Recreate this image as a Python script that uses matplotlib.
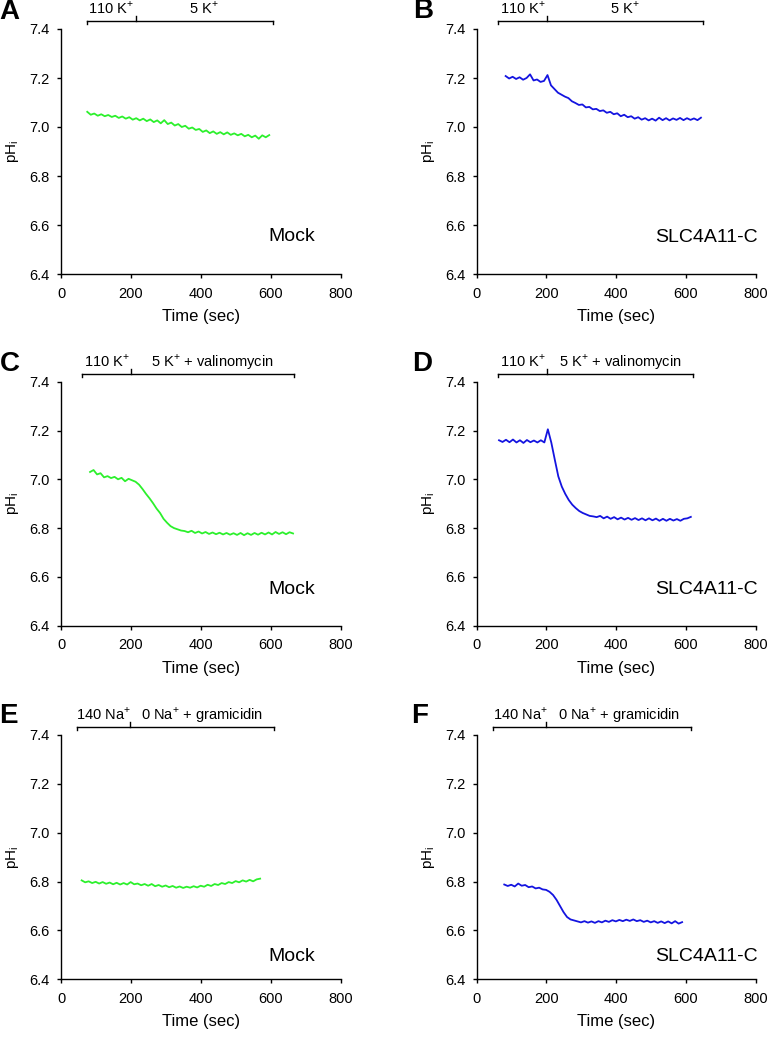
import numpy as np
import matplotlib
matplotlib.use("Agg")
import matplotlib.pyplot as plt

plt.rcParams["font.family"] = ["Liberation Sans", "DejaVu Sans"]
plt.rcParams["mathtext.fontset"] = "custom"
plt.rcParams["mathtext.rm"] = "Liberation Sans"

GREEN = "#2cf02c"
BLUE = "#1414e0"

# traces: start time (s), 10 s sampling, pH values
a_t0 = 75
a_ph = [7.062, 7.050, 7.055, 7.046, 7.052, 7.044, 7.049, 7.041, 7.046, 7.037,
        7.043, 7.034, 7.040, 7.030, 7.036, 7.027, 7.034, 7.024, 7.031, 7.020,
        7.027, 7.015, 7.028, 7.012, 7.018, 7.006, 7.012, 7.000, 7.005, 6.993,
        6.998, 6.988, 6.992, 6.980, 6.986, 6.975, 6.982, 6.972, 6.979, 6.970,
        6.978, 6.968, 6.974, 6.966, 6.972, 6.962, 6.968, 6.958, 6.965, 6.952,
        6.966, 6.958, 6.967]

b_t0 = 83
b_ph = [7.208, 7.198, 7.205, 7.196, 7.203, 7.193, 7.200, 7.215, 7.190, 7.194,
        7.184, 7.188, 7.212, 7.170, 7.155, 7.140, 7.132, 7.124, 7.118, 7.105,
        7.098, 7.090, 7.092, 7.080, 7.082, 7.072, 7.074, 7.065, 7.068, 7.058,
        7.062, 7.052, 7.056, 7.044, 7.050, 7.040, 7.044, 7.034, 7.040, 7.030,
        7.036, 7.027, 7.034, 7.026, 7.038, 7.028, 7.036, 7.027, 7.035, 7.029,
        7.037, 7.028, 7.036, 7.029, 7.035, 7.028, 7.038]

c_t0 = 83
c_ph = [7.030, 7.038, 7.020, 7.025, 7.008, 7.013, 7.005, 7.010, 7.000, 7.006,
        6.992, 7.002, 6.996, 6.990, 6.978, 6.960, 6.940, 6.922, 6.902, 6.880,
        6.862, 6.838, 6.822, 6.808, 6.800, 6.795, 6.790, 6.788, 6.783, 6.789,
        6.780, 6.786, 6.778, 6.784, 6.776, 6.782, 6.775, 6.781, 6.774, 6.780,
        6.773, 6.779, 6.772, 6.780, 6.771, 6.779, 6.772, 6.780, 6.773, 6.781,
        6.774, 6.782, 6.774, 6.784, 6.776, 6.783, 6.775, 6.783, 6.778]

d_t0 = 64
d_ph = [7.160, 7.153, 7.162, 7.152, 7.163, 7.151, 7.160, 7.149, 7.161, 7.152,
        7.159, 7.151, 7.160, 7.151, 7.205, 7.150, 7.080, 7.012, 6.970, 6.940,
        6.915, 6.896, 6.882, 6.870, 6.862, 6.856, 6.850, 6.848, 6.845, 6.850,
        6.840, 6.847, 6.838, 6.845, 6.836, 6.843, 6.835, 6.842, 6.834, 6.841,
        6.833, 6.840, 6.832, 6.840, 6.832, 6.839, 6.830, 6.838, 6.830, 6.838,
        6.831, 6.837, 6.830, 6.838, 6.840, 6.846]

e_t0 = 59
e_ph = [6.805, 6.797, 6.801, 6.794, 6.799, 6.792, 6.798, 6.791, 6.796, 6.789,
        6.795, 6.788, 6.794, 6.788, 6.798, 6.789, 6.792, 6.785, 6.790, 6.783,
        6.790, 6.781, 6.786, 6.779, 6.784, 6.777, 6.782, 6.775, 6.780, 6.774,
        6.779, 6.775, 6.781, 6.776, 6.783, 6.779, 6.787, 6.782, 6.790, 6.786,
        6.794, 6.790, 6.798, 6.794, 6.802, 6.797, 6.805, 6.800, 6.807, 6.801,
        6.809, 6.812]

f_t0 = 79
f_ph = [6.788, 6.782, 6.787, 6.780, 6.792, 6.783, 6.786, 6.777, 6.780, 6.772,
        6.775, 6.768, 6.766, 6.758, 6.745, 6.725, 6.700, 6.675, 6.655, 6.645,
        6.641, 6.637, 6.633, 6.638, 6.632, 6.637, 6.631, 6.638, 6.633, 6.640,
        6.635, 6.642, 6.637, 6.643, 6.638, 6.644, 6.639, 6.645, 6.638, 6.642,
        6.635, 6.640, 6.633, 6.638, 6.631, 6.637, 6.630, 6.637, 6.629, 6.638,
        6.628, 6.634]

# solution bars above each panel: start, switch, end (s)
a_bar = [74, 213, 605]
b_bar = [62, 202, 650]
c_bar = [60, 200, 667]
d_bar = [62, 202, 619]
e_bar = [47, 197, 609]
f_bar = [48, 200, 614]

k_labels = ["110 K$^\\mathregular{+}$", "5 K$^\\mathregular{+}$"]
val_labels = ["110 K$^\\mathregular{+}$", "5 K$^\\mathregular{+}$ + valinomycin"]
na_labels = ["140 Na$^\\mathregular{+}$", "0 Na$^\\mathregular{+}$ + gramicidin"]

panels = [
    ("A", a_t0, a_ph, GREEN, a_bar, k_labels, "Mock", 6.555),
    ("B", b_t0, b_ph, BLUE, b_bar, k_labels, "SLC4A11-C", 6.55),
    ("C", c_t0, c_ph, GREEN, c_bar, val_labels, "Mock", 6.55),
    ("D", d_t0, d_ph, BLUE, d_bar, val_labels, "SLC4A11-C", 6.55),
    ("E", e_t0, e_ph, GREEN, e_bar, na_labels, "Mock", 6.493),
    ("F", f_t0, f_ph, BLUE, f_bar, na_labels, "SLC4A11-C", 6.493),
]

W, H = 771, 1038
fig = plt.figure(figsize=(W / 100, H / 100), dpi=100)

# axes boxes in pixels: left, top, right, bottom
lefts = [(61, 341), (476.7, 755.7)]
rows = [(29, 274), (381.7, 625.7), (735, 979.3)]
letter_pos = [(9, 12), (423, 11), (10, 364), (422, 364), (8, 716), (420, 716)]

for i, (letter, t0, ph, color, bar, labels, name, name_y) in enumerate(panels):
    x0, x1 = lefts[i % 2]
    y0, y1 = rows[i // 2]
    ax = fig.add_axes([x0 / W, 1 - y1 / H, (x1 - x0) / W, (y1 - y0) / H])
    t = t0 + 10 * np.arange(len(ph))
    ax.plot(t, ph, color=color, lw=1.3)

    ax.set_xlim(0, 800)
    ax.set_ylim(6.4, 7.4)
    ax.set_xticks([0, 200, 400, 600, 800])
    ax.set_yticks([6.4, 6.6, 6.8, 7.0, 7.2, 7.4])
    ax.set_yticklabels(["%.1f" % v for v in ax.get_yticks()])
    for s in ["top", "right"]:
        ax.spines[s].set_visible(False)
    for s in ["left", "bottom"]:
        ax.spines[s].set_linewidth(1.0)
    ax.tick_params(direction="out", length=3, width=1.0, labelsize=10.5)
    ax.tick_params(axis="x", pad=6)
    ax.tick_params(axis="y", pad=5)
    ax.set_xlabel("Time (sec)", fontsize=12, labelpad=6)
    ax.set_ylabel("pH$_\\mathregular{i}$", fontsize=11, labelpad=6)

    # solution bar
    yb = 7.432
    ax.plot([bar[0], bar[2]], [yb, yb], color="black", lw=1.0, clip_on=False)
    for xe in (bar[0], bar[2]):
        ax.plot([xe, xe], [yb, yb - 0.013], color="black", lw=1.0, clip_on=False)
    ax.plot([bar[1], bar[1]], [yb, yb + 0.02], color="black", lw=1.0, clip_on=False)
    ax.text((bar[0] + bar[1]) / 2, yb + 0.03, labels[0], ha="center",
            va="baseline", fontsize=10.5, clip_on=False)
    ax.text((bar[1] + bar[2]) / 2, yb + 0.03, labels[1], ha="center",
            va="baseline", fontsize=10.5, clip_on=False)

    ax.text(660, name_y, name, ha="center", va="center", fontsize=14)

    lx, ly = letter_pos[i]
    fig.text(lx / W, 1 - ly / H, letter, ha="center", va="center",
             fontsize=20, fontweight="bold")

fig.savefig("out.png", dpi=100)
